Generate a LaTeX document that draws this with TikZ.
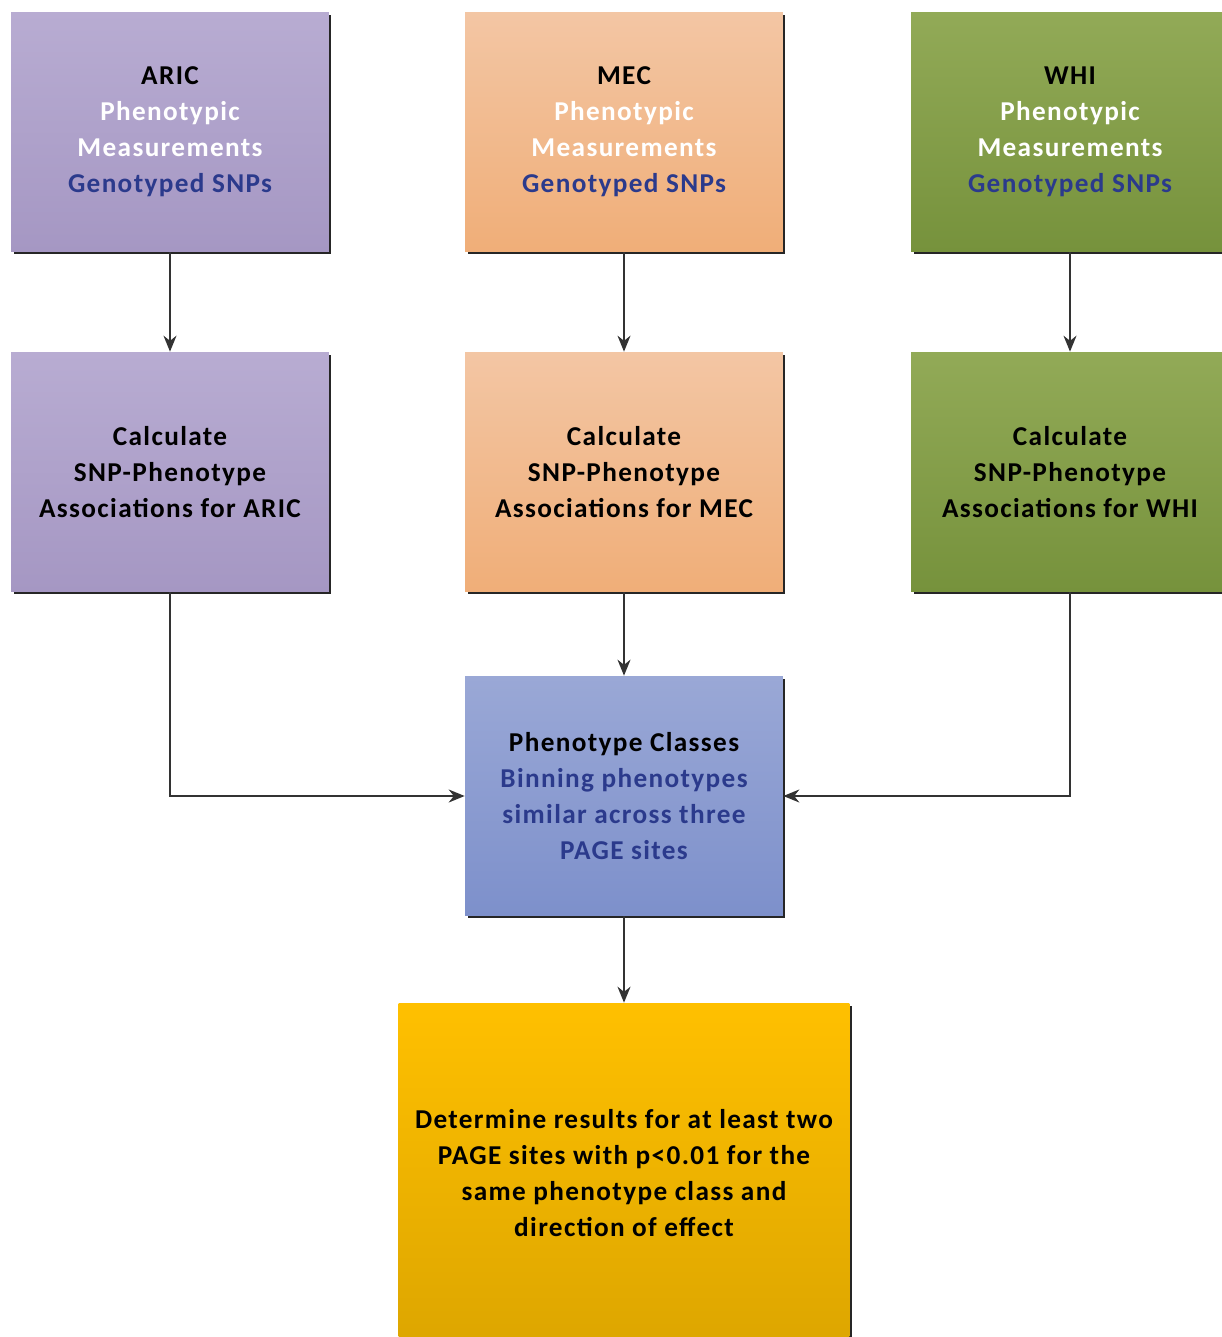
\documentclass[tikz,border=0pt]{standalone}
\usepackage{fontspec}
\setmainfont{Carlito}[LetterSpace=5]
\usepackage{tikz}
\usetikzlibrary{arrows,arrows.meta,shadows}

\begin{document}
\begin{tikzpicture}[x=0.02cm,y=-0.02cm]

	\definecolor{aricTop}{RGB}{184,172,210}
	\definecolor{aricBot}{RGB}{165,151,195}
	\definecolor{mecTop}{RGB}{243,198,164}
	\definecolor{mecBot}{RGB}{240,174,120}
	\definecolor{whiTop}{RGB}{146,170,87}
	\definecolor{whiBot}{RGB}{118,146,60}
	\definecolor{classTop}{RGB}{154,168,214}
	\definecolor{classBot}{RGB}{125,144,203}
	\definecolor{resTop}{RGB}{255,192,0}
	\definecolor{resBot}{RGB}{221,166,0}
	\definecolor{snpblue}{RGB}{43,58,140}

	\useasboundingbox (0,0) rectangle (1222,1337);
	\tikzstyle{edge} = [draw,-{Stealth[length=0.32cm,width=0.26cm]},line width=1.1pt,black!80]

	\tikzset{box/.style = {shape=rectangle,minimum width=6.36cm,minimum height=4.8cm,
		align=center,inner sep=0pt,font=\bfseries\fontsize{15.5}{20.5}\selectfont,
		drop shadow={shadow xshift=0.05cm,shadow yshift=-0.05cm,fill=black!85,opacity=1}}}
	\tikzset{aric/.style = {box,top color=aricTop,bottom color=aricBot}}
	\tikzset{mec/.style = {box,top color=mecTop,bottom color=mecBot}}
	\tikzset{whi/.style = {box,top color=whiTop,bottom color=whiBot}}

	% data sources
	\node[aric] (aric1) at (170,132) {ARIC\\ \textcolor{white}{Phenotypic}\\ \textcolor{white}{Measurements}\\ \textcolor{snpblue}{Genotyped SNPs}};
	\node[mec] (mec1) at (624,132) {MEC\\ \textcolor{white}{Phenotypic}\\ \textcolor{white}{Measurements}\\ \textcolor{snpblue}{Genotyped SNPs}};
	\node[whi] (whi1) at (1070,132) {WHI\\ \textcolor{white}{Phenotypic}\\ \textcolor{white}{Measurements}\\ \textcolor{snpblue}{Genotyped SNPs}};

	% associations
	\node[aric] (aric2) at (170,472) {Calculate\\ SNP-Phenotype\\ Associations for ARIC};
	\node[mec] (mec2) at (624,472) {Calculate\\ SNP-Phenotype\\ Associations for MEC};
	\node[whi] (whi2) at (1070,472) {Calculate\\ SNP-Phenotype\\ Associations for WHI};

	\node[box,top color=classTop,bottom color=classBot] (classes) at (624,796)
		{Phenotype Classes\\ \textcolor{snpblue}{Binning phenotypes}\\ \textcolor{snpblue}{similar across three}\\ \textcolor{snpblue}{PAGE sites}};

	\node[box,minimum width=9.02cm,minimum height=6.8cm,top color=resTop,bottom color=resBot] (result) at (624,1173)
		{Determine results for at least two\\ PAGE sites with p<0.01 for the\\ same phenotype class and\\ direction of effect};

	\draw[edge] (aric1) to (aric2);
	\draw[edge] (mec1) to (mec2);
	\draw[edge] (whi1) to (whi2);
	\draw[edge] (mec2) to (classes);
	\draw[edge] (aric2.south) |- (classes.west);
	\draw[edge] (whi2.south) |- (classes.east);
	\draw[edge] (classes) to (result);
\end{tikzpicture}
\end{document}
